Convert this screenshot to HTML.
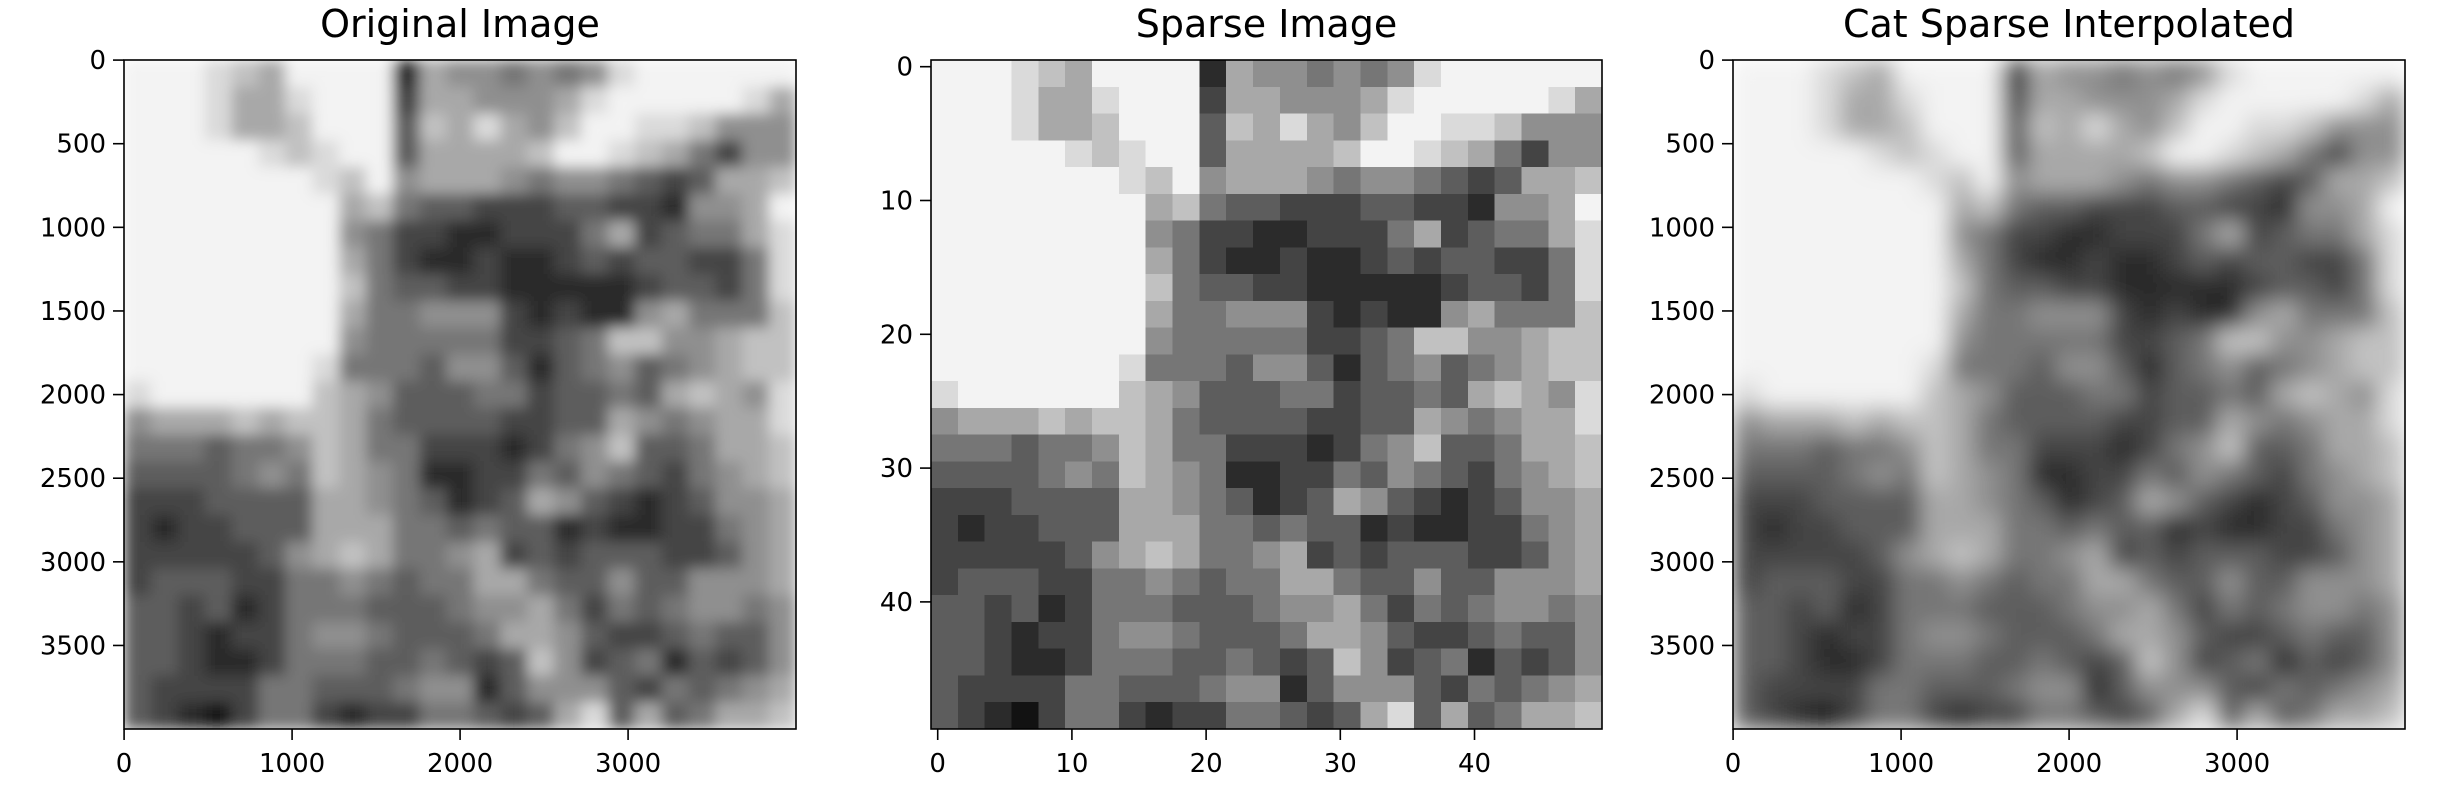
<!DOCTYPE html>
<html><head><meta charset="utf-8"><style>
html,body{margin:0;padding:0;background:#fff;}
svg{display:block;font-family:"DejaVu Sans","Liberation Sans",sans-serif;}
</style></head><body>
<svg id="fig" width="2452" height="794" viewBox="0 0 2452 794" xmlns="http://www.w3.org/2000/svg">
<defs>
<filter id="blur1" x="0" y="0" width="1" height="1" filterUnits="objectBoundingBox"><feGaussianBlur stdDeviation="7" edgeMode="duplicate"/></filter>
<filter id="blur3" x="0" y="0" width="1" height="1" filterUnits="objectBoundingBox"><feGaussianBlur stdDeviation="11" edgeMode="duplicate"/></filter>
<clipPath id="c1"><rect x="124" y="60" width="672" height="669"/></clipPath>
<clipPath id="c2"><rect x="931" y="60" width="671" height="669"/></clipPath>
<clipPath id="c3"><rect x="1733" y="60" width="672" height="669"/></clipPath>
</defs>
</svg>
<script>
// Grayscale intensity grid (0 = black, 9 = white), each cell = 2x2 sparse pixels
const rows = [
[9,9,9,8,7,6,9,9,9,9,1,6,5,5,4,5,4,5,8,9,9,9,9,9,9],
[9,9,9,8,6,6,8,9,9,9,2,6,6,5,5,5,6,8,9,9,9,9,9,8,6],
[9,9,9,8,6,6,7,9,9,9,3,7,6,8,6,5,7,9,9,8,8,7,5,5,5],
[9,9,9,9,9,8,7,8,9,9,3,6,6,6,6,7,9,9,8,7,6,4,2,5,5],
[9,9,9,9,9,9,9,8,7,9,5,6,6,6,5,4,5,5,4,3,2,3,6,6,7],
[9,9,9,9,9,9,9,9,6,7,4,3,3,2,2,2,3,3,2,2,1,5,5,6,9],
[9,9,9,9,9,9,9,9,5,4,2,2,1,1,2,2,2,4,6,2,3,4,4,6,8],
[9,9,9,9,9,9,9,9,6,4,2,1,1,2,1,1,2,3,2,3,3,2,2,4,8],
[9,9,9,9,9,9,9,9,7,4,3,3,2,2,1,1,1,1,1,2,3,3,2,4,8],
[9,9,9,9,9,9,9,9,6,4,4,5,5,5,2,1,2,1,1,5,6,4,4,4,7],
[9,9,9,9,9,9,9,9,5,4,4,4,4,4,2,2,3,4,7,7,5,5,6,7,7],
[9,9,9,9,9,9,9,8,4,4,4,3,5,5,3,1,3,4,5,3,4,5,6,7,7],
[8,9,9,9,9,9,9,7,6,5,3,3,3,4,4,2,3,3,4,3,6,7,6,5,8],
[5,6,6,6,7,6,7,7,6,4,3,3,3,3,2,2,3,3,6,5,4,5,6,6,8],
[4,4,4,3,4,4,5,7,6,4,4,2,2,2,1,2,4,5,7,3,3,4,6,6,7],
[3,3,3,3,4,5,4,7,6,5,4,1,1,2,2,4,3,5,4,3,2,4,5,6,7],
[2,2,2,3,3,3,3,6,6,5,4,3,1,2,3,6,5,3,2,1,2,3,5,5,6],
[2,1,2,2,3,3,3,6,6,6,4,4,3,4,3,3,1,2,1,1,2,2,4,5,6],
[2,2,2,2,2,3,5,6,7,6,4,4,5,6,2,3,2,3,3,3,2,2,3,5,6],
[2,3,3,3,2,2,4,4,5,4,3,4,4,6,6,4,3,3,5,3,3,5,5,5,6],
[3,3,2,3,1,2,4,4,4,3,3,3,4,5,5,6,4,2,4,3,4,5,5,4,5],
[3,3,2,1,2,2,4,5,5,4,3,3,3,4,6,6,5,3,2,2,3,4,3,3,5],
[3,3,2,1,1,2,4,4,4,3,3,4,3,2,3,7,5,2,3,4,1,3,2,3,5],
[3,2,2,2,2,4,4,3,3,3,4,5,5,1,3,5,5,5,3,2,4,3,4,5,6],
[3,2,1,0,2,4,4,2,1,2,2,4,4,3,2,3,6,8,3,6,3,4,6,6,7]
];
const titles = ["Original Image","Sparse Image","Cat Sparse Interpolated"];
const bigYTicks = [0,500,1000,1500,2000,2500,3000,3500];
const bigXTicks = [0,1000,2000,3000];
const smallTicks = [0,10,20,30,40];
const bigExtent = [-0.5, 3999.5];
const smallExtent = [-0.5, 49.5];

const NS = "http://www.w3.org/2000/svg";
const svg = document.getElementById('fig');
function mk(tag, attrs, parent){const e=document.createElementNS(NS,tag);for(const k in attrs)e.setAttribute(k,attrs[k]);(parent||svg).appendChild(e);return e;}
function gray(v){const g=Math.round(18+v*25);return `rgb(${g},${g},${g})`;}

const panels = [
 {x:124,y:60,w:672,h:669,ext:bigExtent,xt:bigXTicks,yt:bigYTicks,filter:'blur1',clip:'c1',n:4000},
 {x:931,y:60,w:671,h:669,ext:smallExtent,xt:smallTicks,yt:smallTicks,filter:null,clip:'c2',n:50},
 {x:1733,y:60,w:672,h:669,ext:bigExtent,xt:bigXTicks,yt:bigYTicks,filter:'blur3',clip:'c3',n:4000}
];

panels.forEach((p,pi)=>{
  const sx = v => p.x + (v - p.ext[0])/(p.ext[1]-p.ext[0])*p.w;
  const sy = v => p.y + (v - p.ext[0])/(p.ext[1]-p.ext[0])*p.h;
  const clipG = mk('g',{'clip-path':`url(#${p.clip})`});
  
  
  const g = mk('g', p.filter?{filter:`url(#${p.filter})`}:{'shape-rendering':'crispEdges'}, clipG);
  const nr = rows.length, nc = rows[0].length;
  const step = p.n / nr;
  for(let r=0;r<nr;r++){
    for(let c=0;c<nc;c++){
      const v = rows[r][c];
      const x0 = sx(c*step - 0.5), x1 = sx((c+1)*step - 0.5);
      const y0 = sy(r*step - 0.5), y1 = sy((r+1)*step - 0.5);
      const cell = mk('rect',{x:x0,y:y0,width:x1-x0+0.6,height:y1-y0+0.6,fill:gray(v)},g);
      
      
    }
  }
  const frame = mk('rect',{x:p.x,y:p.y,width:p.w,height:p.h,fill:'none',stroke:'#000','stroke-width':1.6});
  
  
  const t = mk('text',{x:p.x+p.w/2,y:37,'text-anchor':'middle','font-size':38,fill:'#000'});
  t.textContent = titles[pi];
  
  
  p.yt.forEach(v=>{
    const y = sy(v);
    mk('line',{x1:p.x-11,x2:p.x,y1:y,y2:y,stroke:'#000','stroke-width':1.6});
    const l = mk('text',{x:p.x-18,y:y+9,'text-anchor':'end','font-size':26,fill:'#000'});
    l.textContent = v;
    
    
  });
  p.xt.forEach(v=>{
    const x = sx(v);
    mk('line',{x1:x,x2:x,y1:p.y+p.h,y2:p.y+p.h+11,stroke:'#000','stroke-width':1.6});
    const l = mk('text',{x:x,y:p.y+p.h+43,'text-anchor':'middle','font-size':26,fill:'#000'});
    l.textContent = v;
    
    
  });
});
</script>
</body></html>
